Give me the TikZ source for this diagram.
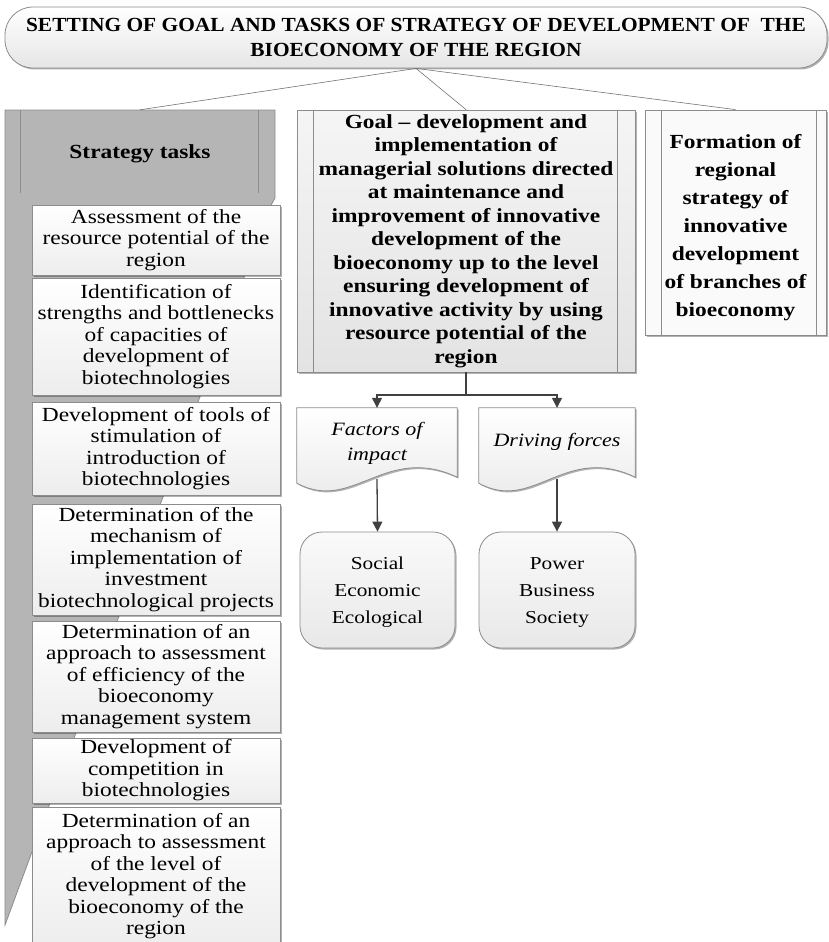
\documentclass[tikz,border=0pt]{standalone}
\usepackage{fontspec}
\setmainfont{Liberation Serif}[FakeStretch=1.17]
\newfontfamily\titlefont{Liberation Serif}[FakeStretch=1.07]
\usetikzlibrary{shadows,arrows.meta,calc}
\definecolor{edgec}{HTML}{8C8C8C}
\definecolor{panelc}{HTML}{B5B5B5}
\definecolor{linec}{HTML}{404040}
\tikzset{
  shadowed/.style={drop shadow={shadow xshift=1.5pt,shadow yshift=-1.5pt,opacity=0.3,fill=black}},
  taskbox/.style={draw=edgec,line width=0.8pt,top color=white,bottom color=black!7,
    minimum width=248pt,align=center,inner sep=0pt,shadowed,
    font=\fontsize{20}{21.5}\selectfont},
  bigbox/.style={draw=edgec,line width=0.8pt,align=center,inner sep=0pt,shadowed,
    font=\bfseries\fontsize{20}{23.5}\selectfont},
  docbox/.style={align=center,inner sep=0pt,minimum height=65pt,
    font=\itshape\fontsize{18.8}{25}\selectfont},
  roundbox/.style={draw=edgec,line width=0.8pt,rounded corners=22pt,top color=black!2,bottom color=black!9,
    minimum width=155pt,minimum height=116pt,align=center,inner sep=0pt,shadowed},
  roundtext/.style={align=center,inner sep=0pt,font=\fontsize{18.2}{27}\selectfont},
  thinconn/.style={draw=black!55,line width=0.6pt},
  flowconn/.style={draw=linec,line width=1.3pt},
  flowarrow/.style={flowconn,-{Triangle[length=10pt,width=10pt]}},
  innerline/.style={draw=edgec,line width=0.8pt},
}
\begin{document}
\begin{tikzpicture}[x=1pt,y=-1pt]
\useasboundingbox (0,0) rectangle (828,942);
% title
\node[draw=edgec,line width=0.8pt,rounded corners=28pt,top color=white,bottom color=black!10,shadowed,
  minimum width=822pt,minimum height=61pt,align=center,inner sep=0pt,
  font=\titlefont\bfseries\fontsize{20}{25}\selectfont] (title) at (416,37.5)
  {SETTING OF GOAL AND TASKS OF STRATEGY OF DEVELOPMENT OF\ \ THE\\BIOECONOMY OF THE REGION};
% gray panel of tasks
\fill[panelc,draw=edgec,line width=0.8pt] (5,110) -- (275,110) -- (275,198) -- (270,207) -- (5,925) -- cycle;
\node[minimum width=270pt,minimum height=88pt,inner sep=0pt,font=\bfseries\fontsize{20}{24}\selectfont] (hdr) at (140,154) {Strategy tasks};
\draw[innerline] ([xshift=16pt]hdr.north west) -- ++(0,83);
\draw[innerline] ([xshift=-17pt]hdr.north east) -- ++(0,83);
% tasks
\node[taskbox,minimum height=70pt] (t1) at (156,240) {Assessment of the\\resource potential of the\\region};
\node[taskbox,minimum height=117pt] (t2) at (156,336.5) {Identification of\\strengths and bottlenecks\\of capacities of\\development of\\biotechnologies};
\node[taskbox,minimum height=93pt] (t3) at (156,448.5) {Development of tools of\\stimulation of\\introduction of\\biotechnologies};
\node[taskbox,minimum height=111pt] (t4) at (156,559.5) {Determination of the\\mechanism of\\implementation of\\investment\\biotechnological projects};
\node[taskbox,minimum height=111pt] (t5) at (156,676.5) {Determination of an\\approach to assessment\\of efficiency of the\\bioeconomy\\management system};
\node[taskbox,minimum height=65pt] (t6) at (156,770.5) {Development of\\competition in\\biotechnologies};
\node[taskbox,minimum height=137pt] (t7) at (156,876) {Determination of an\\approach to assessment\\of the level of\\development of the\\bioeconomy of the\\region};
% goal
\node[bigbox,top color=black!4,bottom color=black!11,minimum width=338pt,minimum height=262pt] (goal) at (466,241)
  {Goal -- development and\\implementation of\\managerial solutions directed\\at maintenance and\\improvement of innovative\\development of the\\bioeconomy up to the level\\ensuring development of\\innovative activity by using\\resource potential of the\\region};
\draw[innerline] ([xshift=17pt]goal.north west) -- ([xshift=17pt]goal.south west);
\draw[innerline] ([xshift=-18pt]goal.north east) -- ([xshift=-18pt]goal.south east);
% formation
\node[bigbox,fill=black!2,minimum width=181pt,minimum height=225pt] (form) at (735.5,222.5) {};
\node[align=center,inner sep=0pt,font=\bfseries\fontsize{20}{28}\selectfont] (formtext) at (735.5,228)
  {Formation of\\regional\\strategy of\\innovative\\development\\of branches of\\bioeconomy};
\draw[innerline] ([xshift=17pt]form.north west) -- ([xshift=17pt]form.south west);
\draw[innerline] ([xshift=-10pt]form.north east) -- ([xshift=-10pt]form.south east);
% connectors from title
\draw[thinconn] (title.south) -- (hdr.north);
\draw[thinconn] (title.south) -- (goal.north);
\draw[thinconn] (title.south) -- (form.north);
% documents (outline first, then text nodes)
\path (377,440.5) node[docbox,minimum width=160pt] (fac) {}
      (557,440.5) node[docbox,minimum width=156pt] (drv) {};
\foreach \d in {fac,drv}{
  \path let \p1=(\d.north west), \p2=(\d.south east) in
    [draw=edgec,line width=0.8pt,top color=white,bottom color=black!9,shadowed]
    (\x1,\y1) -- (\x2,\y1) -- (\x2,\y2-4pt)
    .. controls (\x1+0.55*\x2-0.55*\x1,\y2+30pt) and (\x1+0.35*\x2-0.35*\x1,\y2-40pt) .. (\x1,\y2-10pt) -- cycle;
}
\node[docbox,minimum width=160pt] (factext) at (377,443) {Factors of\\impact};
\node[docbox,minimum width=156pt] (drvtext) at (557,442) {Driving forces};
% outcome boxes
\node[roundbox] (soc) at (377.5,590) {};
\node[roundtext] (soctext) at (377.5,592) {Social\\Economic\\Ecological};
\node[roundbox,minimum width=156pt] (pow) at (557,590) {};
\node[roundtext] (powtext) at (557,592) {Power\\Business\\Society};
% flow connectors
\coordinate (split) at (goal.south |- 0,395);
\draw[flowconn] (goal.south) -- (split);
\draw[flowarrow] (split) -| (fac.north);
\draw[flowarrow] (split) -| (drv.north);
\draw[flowarrow] ([yshift=-6pt]fac.south) -- (soc.north);
\draw[flowarrow] ([yshift=-6pt]drv.south) -- (pow.north);
\end{tikzpicture}
\end{document}
